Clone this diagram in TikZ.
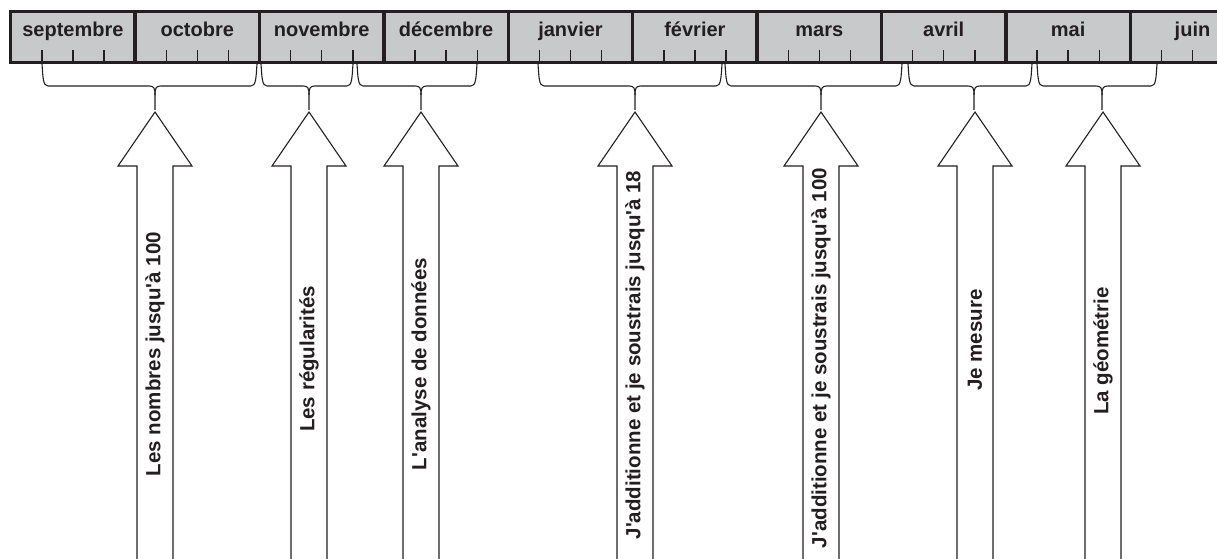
\documentclass[tikz,border=0pt]{standalone}
\usepackage{fontspec}
\setmainfont{Liberation Sans}
\definecolor{ink}{HTML}{231F20}
\definecolor{barfill}{HTML}{C8C9CB}
\newcommand{\apo}{\textquotesingle}
\begin{document}
\begin{tikzpicture}[x=1pt,y=-1pt,
  cell/.style={rectangle, draw=ink, fill=barfill, line width=3.5pt, minimum width=124.4pt, minimum height=51pt, anchor=north west, inner sep=0, outer sep=0},
  month/.style={font=\fontsize{20}{24}\selectfont\bfseries, text=ink, anchor=base, inner sep=0},
  lab/.style={font=\fontsize{20.5}{24}\selectfont\bfseries, text=ink, rotate=90, inner sep=0},
  bigarrow/.style={draw=ink, line width=1.1pt, fill=white, line join=miter},
  bracepath/.style={draw=ink, line width=1.1pt},
  tickmark/.style={draw=ink, line width=1.4pt}]
\clip (0,0) rectangle (1217,559);
\fill[white] (0,0) rectangle (1217,559);
% month cells
\foreach \i/\name/\m in {0/m1/septembre,1/m2/octobre,2/m3/novembre,3/m4/d\'ecembre,4/m5/janvier,5/m6/f\'evrier,6/m7/mars,7/m8/avril,8/m9/mai,9/m10/juin}{
  \node[cell] (\name) at ({10.7+124.4*\i},11.5) {};
  \node[month] (\name-t) at ({10.7+124.4*\i+62.2},37) {\m};
  \foreach \k in {1,2,3}{
    \draw[tickmark] ({10.7+124.4*\i+31.1*\k},50) -- ({10.7+124.4*\i+31.1*\k},61);
  }
}
% braces
\foreach \xl/\xr/\c in {42/257/155, 261/353/309, 357/477/421, 538/722/635, 725/902/821, 908/1032/974, 1037/1157/1102}{
  \draw[bracepath] (\xl,64) .. controls (\xl+1,78) and (\xl+1,86) .. (\xl+6,86) -- (\c-6,86)
     .. controls (\c-1,86) and (\c,88) .. (\c,95) -- (\c,110);
  \draw[bracepath] (\xr,64) .. controls (\xr-1,78) and (\xr-1,86) .. (\xr-6,86) -- (\c+6,86)
     .. controls (\c+1,86) and (\c,88) .. (\c,95);
}
% arrows
\foreach \c in {155,309,421,635,821,975,1103}{
  \draw[bigarrow] (\c-18,575) -- (\c-18,166) -- (\c-37,166) -- (\c,112) -- (\c+37,166) -- (\c+18,166) -- (\c+18,575);
}
\node[lab] (a1) at (155,354) {Les nombres jusqu\apo à 100};
\node[lab] (a2) at (309,359) {Les régularités};
\node[lab] (a3) at (421,364) {L\apo analyse de données};
\node[lab] (a4) at (635,355) {J\apo additionne et je soustrais jusqu\apo à 18};
\node[lab] (a5) at (821,358) {J\apo additionne et je soustrais jusqu\apo à 100};
\node[lab] (a6) at (975,340) {Je mesure};
\node[lab] (a7) at (1103,351) {La géométrie};
\end{tikzpicture}
\end{document}
